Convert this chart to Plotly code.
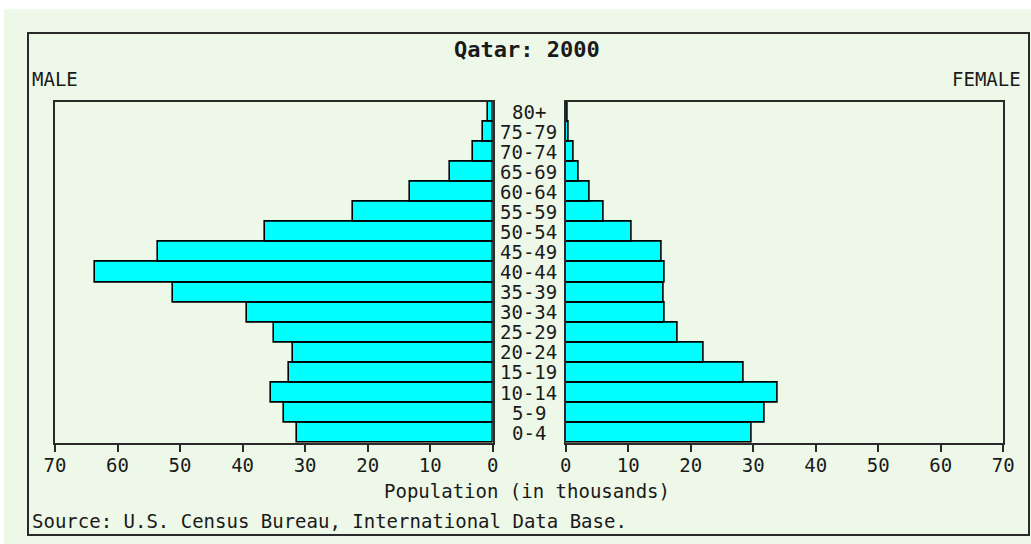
import plotly.graph_objects as go

ages = ["0-4", "5-9", "10-14", "15-19", "20-24", "25-29", "30-34", "35-39",
        "40-44", "45-49", "50-54", "55-59", "60-64", "65-69", "70-74", "75-79", "80+"]
male = [31.3, 33.4, 35.4, 32.6, 31.9, 35.0, 39.3, 51.1, 63.6, 53.6, 36.4, 22.3, 13.3, 6.9, 3.1, 1.5, 0.8]
female = [29.8, 31.9, 33.9, 28.4, 22.0, 17.9, 15.9, 15.6, 15.9, 15.3, 10.6, 6.0, 3.8, 2.1, 1.2, 0.5, 0.3]
ticks = [0, 10, 20, 30, 40, 50, 60, 70]
title = "Qatar: 2000"
xlabel = "Population (in thousands)"
source = "Source: U.S. Census Bureau, International Data Base."

W, H = 1031, 544
BG = "#EEF8E8"
FONT = "DejaVu Sans Mono"
INK = "#1a1a1a"
LINE = "#2a2a2a"

def px(x):
    return x / W

def py(y):
    return 1 - y / H

fig = go.Figure()
fig.add_trace(go.Bar(y=ages, x=male, orientation="h", xaxis="x", yaxis="y",
                     marker=dict(color="#00FFFF", line=dict(color="black", width=1.6)),
                     showlegend=False, hoverinfo="x+y"))
fig.add_trace(go.Bar(y=ages, x=female, orientation="h", xaxis="x2", yaxis="y2",
                     marker=dict(color="#00FFFF", line=dict(color="black", width=1.6)),
                     showlegend=False, hoverinfo="x+y"))

ydom = [py(442.7), py(101.7)]
axis_common = dict(showline=True, mirror=True, linecolor=LINE, linewidth=2,
                   showgrid=False, zeroline=False, ticks="outside", ticklen=7,
                   tickwidth=1.5, tickcolor=LINE, tickvals=ticks, automargin=False,
                   ticklabelstandoff=-3,
                   tickfont=dict(family=FONT, size=19, color=INK), fixedrange=True)
yaxis_common = dict(showline=True, mirror=True, linecolor=LINE, linewidth=2,
                    showgrid=False, zeroline=False, showticklabels=False, ticks="",
                    automargin=False,
                    categoryorder="array", categoryarray=ages, range=[-0.5, 16.5],
                    domain=ydom, fixedrange=True)

fig.update_layout(
    width=W, height=H, autosize=False,
    margin=dict(l=0, r=0, t=0, b=0, pad=0, autoexpand=False),
    paper_bgcolor="white", plot_bgcolor=BG,
    bargap=0,
    xaxis=dict(domain=[px(55), px(492.7)], range=[70, 0], anchor="y", **axis_common),
    xaxis2=dict(domain=[px(565.7), px(1003.3)], range=[0, 70], anchor="y2", **axis_common),
    yaxis=dict(anchor="x", **yaxis_common),
    yaxis2=dict(anchor="x2", **yaxis_common),
)

shapes = [
    dict(type="rect", xref="paper", yref="paper", x0=px(4), x1=1.0, y0=0.0, y1=py(9),
         fillcolor=BG, line=dict(width=0), layer="below"),
    dict(type="rect", xref="paper", yref="paper", x0=px(28), x1=px(1029), y0=py(535), y1=py(33),
         fillcolor="rgba(0,0,0,0)", line=dict(color=LINE, width=2), layer="above"),
]
fig.update_layout(shapes=shapes)

ann = []
for a in ages:
    ann.append(dict(text=a, x=px(528.5), xref="paper", y=a, yref="y", showarrow=False,
                    xanchor="center", yanchor="middle",
                    font=dict(family=FONT, size=19, color=INK)))
ann.append(dict(text="<b>" + title + "</b>", x=px(527), y=py(49), xref="paper", yref="paper",
                showarrow=False, xanchor="center", yanchor="middle",
                font=dict(family=FONT, size=22, color=INK)))
ann.append(dict(text="MALE", x=px(30), y=py(79), xref="paper", yref="paper",
                showarrow=False, xanchor="left", yanchor="middle",
                font=dict(family=FONT, size=19, color=INK)))
ann.append(dict(text="FEMALE", x=px(1023), y=py(79), xref="paper", yref="paper",
                showarrow=False, xanchor="right", yanchor="middle",
                font=dict(family=FONT, size=19, color=INK)))
ann.append(dict(text=xlabel, x=px(527), y=py(491), xref="paper", yref="paper",
                showarrow=False, xanchor="center", yanchor="middle",
                font=dict(family=FONT, size=19, color=INK)))
ann.append(dict(text=source, x=px(30), y=py(521), xref="paper", yref="paper",
                showarrow=False, xanchor="left", yanchor="middle",
                font=dict(family=FONT, size=19, color=INK)))
fig.update_layout(annotations=ann)

fig.write_html("out.html",
               config={"responsive": False, "displayModeBar": False},
               post_script="document.body.style.margin='0';document.body.style.padding='0';"
                           "document.body.style.overflow='hidden';"
                           "document.documentElement.style.overflow='hidden';")
